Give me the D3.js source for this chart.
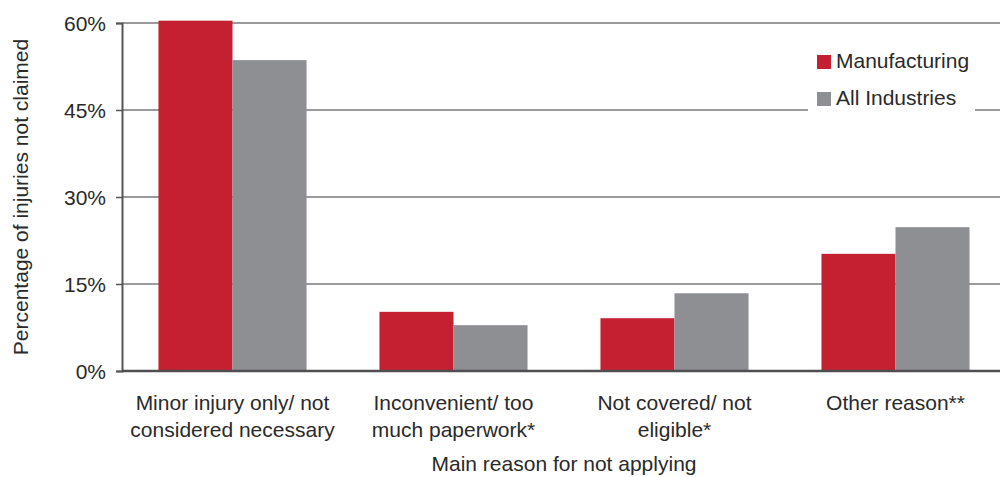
<!DOCTYPE html>
<html>
<head>
<meta charset="utf-8">
<script src="https://cdn.jsdelivr.net/npm/d3@7"></script>
<style>
  html, body { margin: 0; padding: 0; background: #fff; }
  svg { display: block; font-family: "Liberation Sans", Arial, Helvetica, sans-serif; }
</style>
</head>
<body>
<svg id="chart" width="1000" height="477"></svg>
<script>
// Reasons for not claiming workers' compensation
const categories = [
  ["Minor injury only/ not", "considered necessary"],
  ["Inconvenient/ too", "much paperwork*"],
  ["Not covered/ not", "eligible*"],
  ["Other reason**"]
];
const seriesNames = ["Manufacturing", "All Industries"];
const manufacturing = [60.4, 10.2, 9.1, 20.2];
const allIndustries = [53.6, 7.9, 13.4, 24.8];
const yTicks = [0, 15, 30, 45, 60];
const colors = ["#c42032", "#8e8f93"];

const FONT = "21px";
const svg = d3.select("#chart");
const margin = { left: 122, right: -6, top: 23, bottom: 106 };
const W = 1000, H = 477;
const x0 = d3.scaleBand()
  .domain(d3.range(categories.length))
  .range([margin.left, W - margin.right])
  .paddingInner(0.33)
  .paddingOuter(0.165);
const x1 = d3.scaleBand()
  .domain(seriesNames)
  .range([0, x0.bandwidth()]);
const y = d3.scaleLinear().domain([0, 60]).range([H - margin.bottom, margin.top]);

// Horizontal gridlines
svg.append("g").selectAll("line")
  .data(yTicks.filter(d => d > 0))
  .join("line")
  .attr("x1", margin.left).attr("x2", W)
  .attr("y1", d => y(d)).attr("y2", d => y(d))
  .attr("stroke", "#7a7a7c").attr("stroke-width", 1.6);

// Bars
const rows = categories.map((c, i) => [
  { s: seriesNames[0], v: manufacturing[i], c: colors[0] },
  { s: seriesNames[1], v: allIndustries[i], c: colors[1] }
]);
svg.append("g").selectAll("g")
  .data(rows)
  .join("g")
  .attr("transform", (d, i) => `translate(${x0(i)},0)`)
  .selectAll("rect")
  .data(d => d)
  .join("rect")
  .attr("x", d => x1(d.s))
  .attr("width", x1.bandwidth())
  .attr("y", d => y(d.v))
  .attr("height", d => y(0) - y(d.v))
  .attr("fill", d => d.c);

// Y axis
const yAxis = svg.append("g")
  .attr("transform", `translate(${margin.left},0)`)
  .call(d3.axisLeft(y).tickValues(yTicks).tickFormat(d => d + "%").tickSize(6).tickPadding(10));
yAxis.select(".domain").attr("stroke", "#555").attr("stroke-width", 2);
yAxis.selectAll(".tick line").attr("stroke", "#555").attr("stroke-width", 1.5);
yAxis.selectAll(".tick text")
  .attr("fill", "#2a2a2a").style("font-size", FONT)
  .attr("dy", "0.36em");

// Baseline
svg.append("line")
  .attr("x1", margin.left).attr("x2", W)
  .attr("y1", y(0)).attr("y2", y(0))
  .attr("stroke", "#4f4f52").attr("stroke-width", 2.4);

// Category labels
const lab = svg.append("g").selectAll("text")
  .data(categories)
  .join("text")
  .attr("text-anchor", "middle")
  .attr("fill", "#2a2a2a")
  .style("font-size", FONT)
  .attr("transform", (d, i) => `translate(${x0(i) + x0.bandwidth() / 2},410)`);
lab.selectAll("tspan")
  .data(d => d)
  .join("tspan")
  .attr("x", 0)
  .attr("dy", (d, i) => i === 0 ? 0 : 27)
  .text(d => d);

// Axis titles
svg.append("text")
  .attr("x", 564).attr("y", 471)
  .attr("text-anchor", "middle")
  .attr("fill", "#2a2a2a").style("font-size", FONT)
  .text("Main reason for not applying");
svg.append("text")
  .attr("transform", `translate(28,${(y(0) + y(60)) / 2}) rotate(-90)`)
  .attr("text-anchor", "middle")
  .attr("fill", "#2a2a2a").style("font-size", FONT)
  .text("Percentage of injuries not claimed");

// Legend
const legend = svg.append("g");
legend.append("rect")
  .attr("x", 808).attr("y", 40).attr("width", 167).attr("height", 78)
  .attr("fill", "#fff");
const items = legend.selectAll("g")
  .data(seriesNames)
  .join("g")
  .attr("transform", (d, i) => `translate(817,${55 + i * 37})`);
items.append("rect")
  .attr("width", 14).attr("height", 14)
  .attr("fill", (d, i) => colors[i]);
items.append("text")
  .attr("x", 19).attr("y", 13)
  .attr("fill", "#2a2a2a").style("font-size", FONT)
  .text(d => d);
</script>
</body>
</html>
